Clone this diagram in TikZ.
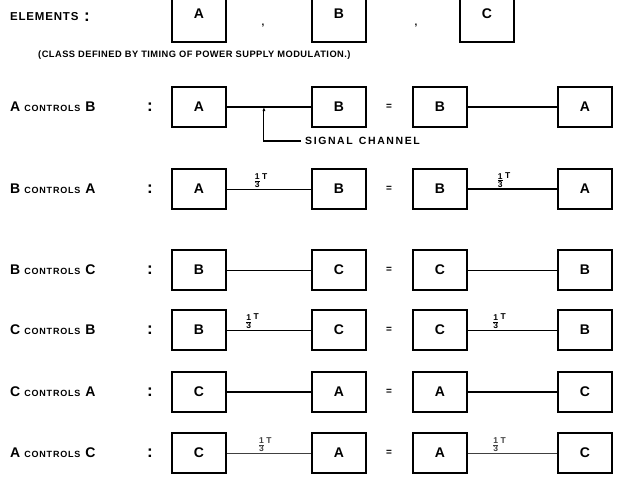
\documentclass[tikz,border=0pt]{standalone}
\usepackage{fontspec}
\setmainfont{Liberation Sans}
\usetikzlibrary{arrows.meta}
\newcommand{\thirdT}{{\fontsize{8.5}{8.5}\bfseries$\frac{\mbox{\fontsize{8.5}{8.5}\bfseries 1}}{\mbox{\fontsize{8.5}{8.5}\bfseries 3}}$\,\raisebox{4pt}{T}}}
\newcommand{\ctl}[2]{{\fontsize{14}{14}\bfseries #1}\hspace{4pt}{\fontsize{9}{9}\bfseries\addfontfeatures{LetterSpace=9}CONTROLS}\hspace{5pt}{\fontsize{14}{14}\bfseries #2}}
\tikzset{
  elbox/.style={draw, line width=1.2pt, minimum width=54pt, minimum height=40pt, inner sep=0pt, font=\fontsize{14}{14}\bfseries},
  colon/.style={font=\fontsize{17}{17}\bfseries, inner sep=0pt},
  lbl/.style={font=\fontsize{11.5}{11.5}\bfseries\addfontfeatures{LetterSpace=7}, inner sep=0pt},
  eq/.style={font=\fontsize{10}{10}\bfseries, inner sep=0pt},
  frac/.style={inner sep=1pt, anchor=south},
  thinw/.style={line width=0.6pt},
  medw/.style={line width=1pt},
  thickw/.style={line width=1.4pt}
}
\begin{document}
\begin{tikzpicture}[x=1pt,y=-1pt]
\useasboundingbox (0,0) rectangle (622,490);
\clip (0,0) rectangle (622,490);
% Elements row
\node[lbl, anchor=west] (elem) at (10,17) {ELEMENTS};
\node[colon] (ek) at (87,17) {:};
\node[elbox, minimum height=56pt] (eA) at (199,14) {A};
\node[eq] (cm1) at (263,26) {,};
\node[elbox, minimum height=56pt] (eB) at (339,14) {B};
\node[eq] (cm2) at (416,26) {,};
\node[elbox, minimum height=56pt] (eC) at (487,14) {C};
\node[anchor=west, inner sep=0pt, font=\fontsize{9.3}{9.3}\bfseries\addfontfeatures{LetterSpace=5}] (sub) at (38,55) {(CLASS DEFINED BY TIMING OF POWER SUPPLY MODULATION.)};

% Row 1: A controls B
\node[anchor=west, inner sep=0pt] (l1) at (10,107) {\ctl{A}{B}};
\node[colon] (k1) at (150,107) {:};
\node[elbox] (r1a) at (199,107) {A};
\node[elbox] (r1b) at (339,107) {B};
\node[eq] (q1) at (389,107) {=};
\node[elbox] (r1c) at (440,107) {B};
\node[elbox] (r1d) at (585,107) {A};
\draw[line width=1.2pt] (r1a) -- coordinate[pos=0.44] (sj) (r1b);
\draw[thickw] (r1c) -- (r1d);
\node[anchor=west, inner sep=0pt, font=\fontsize{10.5}{10.5}\bfseries\addfontfeatures{LetterSpace=15}] (sig) at (305,141) {SIGNAL \,CHANNEL};
\coordinate (sbend) at (sj |- sig.west);
\draw[line width=1.1pt, -{Latex[length=4pt,width=3pt]}] (sig.west) ++(-4,0) coordinate (sstart) -- (sbend) -- (sj);

% Row 2: B controls A
\node[anchor=west, inner sep=0pt] (l2) at (10,189) {\ctl{B}{A}};
\node[colon] (k2) at (150,189) {:};
\node[elbox] (r2a) at (199,189) {A};
\node[elbox] (r2b) at (339,189) {B};
\node[eq] (q2) at (389,189) {=};
\node[elbox] (r2c) at (440,189) {B};
\node[elbox] (r2d) at (585,189) {A};
\draw[thinw] (r2a) -- node[frac, pos=0.4] {\thirdT} (r2b);
\draw[thickw] (r2c) -- node[frac, pos=0.4] {\thirdT} (r2d);

% Row 3: B controls C
\node[anchor=west, inner sep=0pt] (l3) at (10,270) {\ctl{B}{C}};
\node[colon] (k3) at (150,270) {:};
\node[elbox] (r3a) at (199,270) {B};
\node[elbox] (r3b) at (339,270) {C};
\node[eq] (q3) at (389,270) {=};
\node[elbox] (r3c) at (440,270) {C};
\node[elbox] (r3d) at (585,270) {B};
\draw[line width=0.7pt] (r3a) -- (r3b);
\draw[line width=0.7pt] (r3c) -- (r3d);

% Row 4: C controls B
\node[anchor=west, inner sep=0pt] (l4) at (10,330) {\ctl{C}{B}};
\node[colon] (k4) at (150,330) {:};
\node[elbox] (r4a) at (199,330) {B};
\node[elbox] (r4b) at (339,330) {C};
\node[eq] (q4) at (389,330) {=};
\node[elbox] (r4c) at (440,330) {C};
\node[elbox] (r4d) at (585,330) {B};
\draw[medw] (r4a) -- node[frac, pos=0.3] {\thirdT} (r4b);
\draw[medw] (r4c) -- node[frac, pos=0.35] {\thirdT} (r4d);

% Row 5: C controls A
\node[anchor=west, inner sep=0pt] (l5) at (10,392) {\ctl{C}{A}};
\node[colon] (k5) at (150,392) {:};
\node[elbox] (r5a) at (199,392) {C};
\node[elbox] (r5b) at (339,392) {A};
\node[eq] (q5) at (389,392) {=};
\node[elbox] (r5c) at (440,392) {A};
\node[elbox] (r5d) at (585,392) {C};
\draw[line width=1.3pt] (r5a) -- (r5b);
\draw[line width=1.3pt] (r5c) -- (r5d);

% Row 6: A controls C
\node[anchor=west, inner sep=0pt] (l6) at (10,453) {\ctl{A}{C}};
\node[colon] (k6) at (150,453) {:};
\node[elbox] (r6a) at (199,453) {C};
\node[elbox] (r6b) at (339,453) {A};
\node[eq] (q6) at (389,453) {=};
\node[elbox] (r6c) at (440,453) {A};
\node[elbox] (r6d) at (585,453) {C};
\draw[line width=0.7pt, black!75] (r6a) -- node[frac, pos=0.45] {\thirdT} (r6b);
\draw[line width=0.7pt, black!75] (r6c) -- node[frac, pos=0.35] {\thirdT} (r6d);
\end{tikzpicture}
\end{document}
